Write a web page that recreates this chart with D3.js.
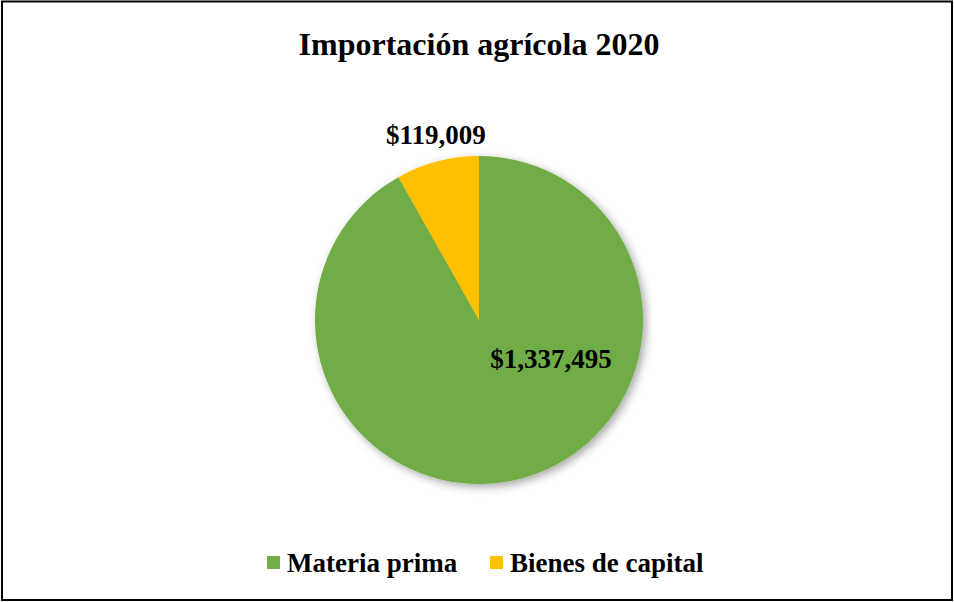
<!DOCTYPE html>
<html>
<head>
<meta charset="utf-8">
<script src="https://cdn.jsdelivr.net/npm/d3@7"></script>
<style>
  body { margin: 0; background: #fff; }
  text { font-family: "Liberation Serif", "Times New Roman", serif; font-weight: bold; fill: #000; }
</style>
</head>
<body>
<div id="chart"></div>
<script>
const categories = ['Materia prima', 'Bienes de capital'];
const values = [1337495, 119009];
const colors = ['#70AD47', '#FFC000'];
const chartTitle = 'Importación agrícola 2020';

const WIDTH = 954, HEIGHT = 602;
const CX = 479, CY = 320, R = 164;

const data = categories.map((c, i) => ({ name: c, value: values[i], color: colors[i] }));
const fmt = d => '$' + d3.format(',')(d);

const svg = d3.select('#chart')
    .append('svg')
    .attr('width', WIDTH)
    .attr('height', HEIGHT);

// soft shadow under the pie
const defs = svg.append('defs');
defs.append('filter')
    .attr('id', 'shadow')
    .attr('x', '-20%').attr('y', '-20%')
    .attr('width', '140%').attr('height', '140%')
    .append('feDropShadow')
    .attr('dx', 3).attr('dy', 3)
    .attr('stdDeviation', 4)
    .attr('flood-color', '#000')
    .attr('flood-opacity', 0.35);

// outer frame
svg.append('rect')
    .attr('x', 2).attr('y', 1.5)
    .attr('width', 950).attr('height', 598.5)
    .attr('fill', 'none')
    .attr('stroke', '#000')
    .attr('stroke-width', 2);

svg.append('text')
    .attr('x', CX).attr('y', 55)
    .attr('text-anchor', 'middle')
    .attr('font-size', 32)
    .text(chartTitle);

const pie = d3.pie().sort(null).value(d => d.value);
const arc = d3.arc().innerRadius(0).outerRadius(R);
const arcs = pie(data);

const g = svg.append('g').attr('transform', `translate(${CX},${CY})`);

g.append('g')
    .attr('filter', 'url(#shadow)')
    .selectAll('path')
    .data(arcs)
    .enter()
    .append('path')
    .attr('d', arc)
    .attr('fill', d => d.data.color);

// labels: big slice inside, small slice outside
const labelPos = d => {
    if (d.index === 0) return [72, 48];
    const a = (d.startAngle + d.endAngle) / 2;
    const rr = R + 18;
    return [Math.sin(a) * rr + 3, -Math.cos(a) * rr];
};

g.selectAll('.label')
    .data(arcs)
    .enter()
    .append('text')
    .classed('label', true)
    .attr('x', d => labelPos(d)[0])
    .attr('y', d => labelPos(d)[1])
    .attr('text-anchor', 'middle')
    .attr('font-size', 27)
    .text(d => fmt(d.data.value));

// legend
const legendX = [267, 490];
const legend = svg.append('g');
const item = legend.selectAll('g')
    .data(data)
    .enter()
    .append('g')
    .attr('transform', (d, i) => `translate(${legendX[i]},556)`);

item.append('rect')
    .attr('width', 13).attr('height', 13)
    .attr('fill', d => d.color);

item.append('text')
    .attr('x', 20).attr('y', 16)
    .attr('font-size', 27)
    .text(d => d.name);
</script>
</body>
</html>
